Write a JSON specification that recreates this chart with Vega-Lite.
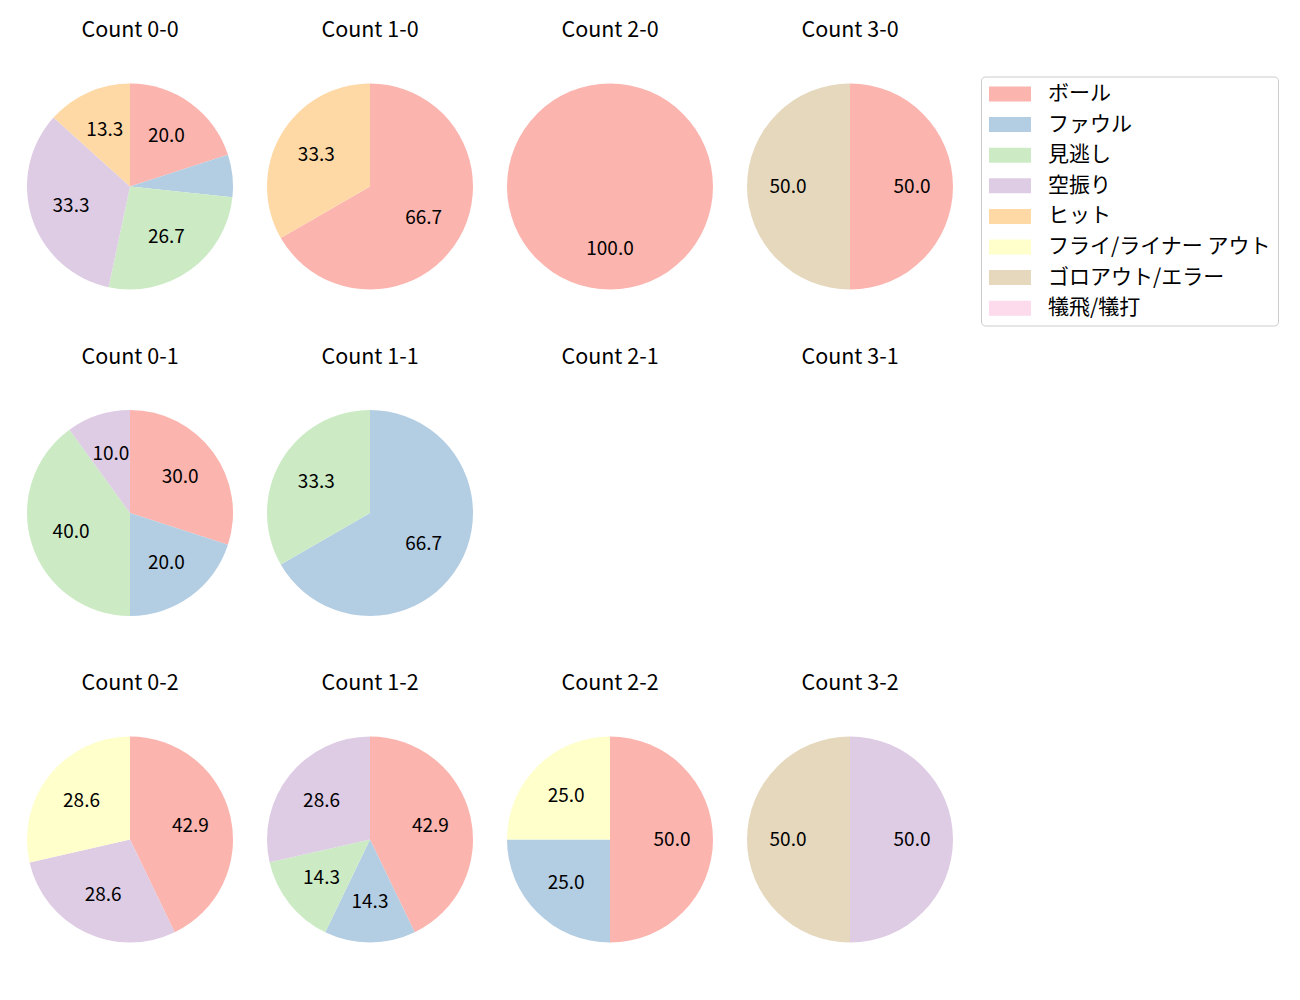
{
  "$schema": "https://vega.github.io/schema/vega-lite/v6.json",
  "padding": {"left": 27, "top": 19.5, "right": 0, "bottom": 0},
  "config": {"font": "Noto Sans CJK JP", "view": {"stroke": null}},
  "data": {"values": [
    {"count": "Count 0-0", "panel": 0, "result": "ボール", "k": 0, "pct": 20.0},
    {"count": "Count 0-0", "panel": 0, "result": "ファウル", "k": 1, "pct": 6.67},
    {"count": "Count 0-0", "panel": 0, "result": "見逃し", "k": 2, "pct": 26.67},
    {"count": "Count 0-0", "panel": 0, "result": "空振り", "k": 3, "pct": 33.33},
    {"count": "Count 0-0", "panel": 0, "result": "ヒット", "k": 4, "pct": 13.33},
    {"count": "Count 1-0", "panel": 1, "result": "ボール", "k": 0, "pct": 66.67},
    {"count": "Count 1-0", "panel": 1, "result": "ヒット", "k": 4, "pct": 33.33},
    {"count": "Count 2-0", "panel": 2, "result": "ボール", "k": 0, "pct": 100.0},
    {"count": "Count 3-0", "panel": 3, "result": "ボール", "k": 0, "pct": 50.0},
    {"count": "Count 3-0", "panel": 3, "result": "ゴロアウト/エラー", "k": 6, "pct": 50.0},
    {"count": "Count 0-1", "panel": 4, "result": "ボール", "k": 0, "pct": 30.0},
    {"count": "Count 0-1", "panel": 4, "result": "ファウル", "k": 1, "pct": 20.0},
    {"count": "Count 0-1", "panel": 4, "result": "見逃し", "k": 2, "pct": 40.0},
    {"count": "Count 0-1", "panel": 4, "result": "空振り", "k": 3, "pct": 10.0},
    {"count": "Count 1-1", "panel": 5, "result": "ファウル", "k": 1, "pct": 66.67},
    {"count": "Count 1-1", "panel": 5, "result": "見逃し", "k": 2, "pct": 33.33},
    {"count": "Count 2-1", "panel": 6, "result": "ボール", "k": 0, "pct": 0},
    {"count": "Count 3-1", "panel": 7, "result": "ボール", "k": 0, "pct": 0},
    {"count": "Count 0-2", "panel": 8, "result": "ボール", "k": 0, "pct": 42.86},
    {"count": "Count 0-2", "panel": 8, "result": "空振り", "k": 3, "pct": 28.57},
    {"count": "Count 0-2", "panel": 8, "result": "フライ/ライナー アウト", "k": 5, "pct": 28.57},
    {"count": "Count 1-2", "panel": 9, "result": "ボール", "k": 0, "pct": 42.86},
    {"count": "Count 1-2", "panel": 9, "result": "ファウル", "k": 1, "pct": 14.29},
    {"count": "Count 1-2", "panel": 9, "result": "見逃し", "k": 2, "pct": 14.29},
    {"count": "Count 1-2", "panel": 9, "result": "空振り", "k": 3, "pct": 28.56},
    {"count": "Count 2-2", "panel": 10, "result": "ボール", "k": 0, "pct": 50.0},
    {"count": "Count 2-2", "panel": 10, "result": "ファウル", "k": 1, "pct": 25.0},
    {"count": "Count 2-2", "panel": 10, "result": "フライ/ライナー アウト", "k": 5, "pct": 25.0},
    {"count": "Count 3-2", "panel": 11, "result": "空振り", "k": 3, "pct": 50.0},
    {"count": "Count 3-2", "panel": 11, "result": "ゴロアウト/エラー", "k": 6, "pct": 50.0}
  ]},
  "facet": {
    "field": "count", "type": "nominal",
    "sort": {"field": "panel", "op": "min"},
    "header": {"title": null, "labelFontSize": 21.5, "labelFont": "Noto Sans CJK JP", "labelColor": "black", "labelPadding": 42}
  },
  "columns": 4,
  "spacing": {"row": 56.5, "column": 34},
  "spec": {
    "width": 206,
    "height": 206,
    "encoding": {
      "theta": {"field": "pct", "type": "quantitative", "stack": true, "scale": {"domain": [0, 100]}},
      "order": {"field": "k", "type": "quantitative"}
    },
    "layer": [
      {
        "mark": {"type": "arc", "outerRadius": 103},
        "encoding": {
          "color": {
            "field": "result", "type": "nominal",
            "scale": {
              "domain": ["ボール", "ファウル", "見逃し", "空振り", "ヒット", "フライ/ライナー アウト", "ゴロアウト/エラー", "犠飛/犠打"],
              "range": ["#fbb4ae", "#b3cde3", "#ccebc5", "#decbe4", "#fed9a6", "#ffffcc", "#e5d8bd", "#fddaec"]
            },
            "legend": {
              "title": null,
              "orient": "none",
              "legendX": 954,
              "legendY": -7,
              "symbolType": "M-1.27,-1H4.33V1H-1.27Z",
              "symbolSize": 225,
              "symbolStrokeWidth": 0,
              "labelFontSize": 21,
              "labelFont": "Noto Sans CJK JP",
              "labelColor": "black",
              "labelOffset": 39,
              "rowPadding": 8.6,
              "padding": 7,
              "strokeColor": "#cccccc",
              "cornerRadius": 4,
              "fillColor": "white",
              "labelLimit": 400
            }
          }
        }
      },
      {
        "mark": {"type": "text", "radius": 62, "fontSize": 19, "color": "black"},
        "encoding": {
          "text": {"field": "pct", "type": "quantitative", "format": ".1f"},
          "opacity": {"condition": {"test": "datum.pct < 10", "value": 0}, "value": 1}
        }
      }
    ]
  }
}
